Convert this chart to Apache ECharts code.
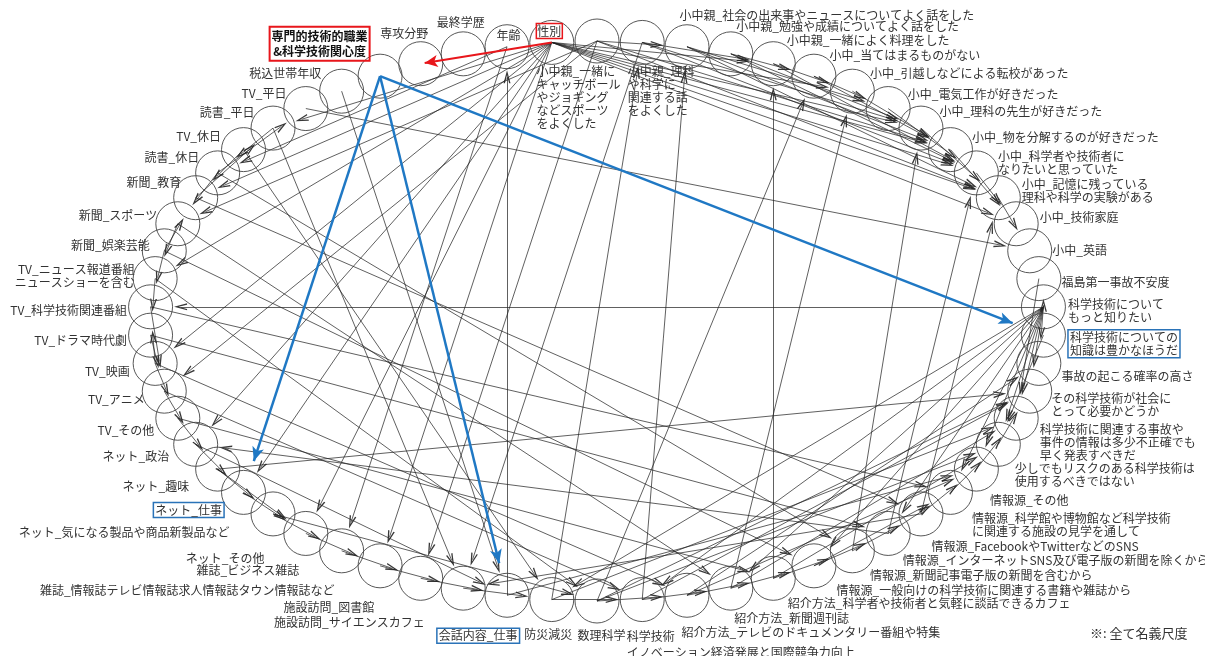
<!DOCTYPE html>
<html><head><meta charset="utf-8">
<script src="https://cdn.jsdelivr.net/npm/echarts@6/dist/echarts.min.js"></script>
<style>html,body{margin:0;padding:0;background:#fff}#c{width:1205px;height:656px}</style>
</head><body><div id="c"></div>
<script>
// ---- data ----
const nodeNames = [
'性別','年齢','最終学歴','専攻分野','専門的技術的職業\n&科学技術関心度','税込世帯年収','TV_平日','読書_平日','TV_休日','読書_休日',
'新聞_教育','新聞_スポーツ','新聞_娯楽芸能','TV_ニュース報道番組\nニュースショーを含む','TV_科学技術関連番組','TV_ドラマ時代劇','TV_映画','TV_アニメ','TV_その他','ネット_政治',
'ネット_趣味','ネット_仕事','ネット_気になる製品や商品新製品など','ネット_その他','雑誌_ビジネス雑誌','雑誌_情報誌テレビ情報誌求人情報誌タウン情報誌など','施設訪問_図書館','施設訪問_サイエンスカフェ','会話内容_仕事','防災減災',
'数理科学','科学技術\nイノベーション経済発展と国際競争力向上','紹介方法_テレビのドキュメンタリー番組や特集','紹介方法_新聞週刊誌','紹介方法_科学者や技術者と気軽に談話できるカフェ','情報源_一般向けの科学技術に関連する書籍や雑誌から','情報源_新聞記事電子版の新聞を含むから','情報源_インターネットSNS及び電子版の新聞を除くから','情報源_FacebookやTwitterなどのSNS','情報源_科学館や博物館など科学技術\nに関連する施設の見学を通して',
'情報源_その他','少しでもリスクのある科学技術は\n使用するべきではない','科学技術に関連する事故や\n事件の情報は多少不正確でも\n早く発表すべきだ','その科学技術が社会に\nとって必要かどうか','事故の起こる確率の高さ','科学技術についての\n知識は豊かなほうだ','科学技術について\nもっと知りたい','福島第一事故不安度','小中_英語','小中_技術家庭',
'小中_記憶に残っている\n理科や科学の実験がある','小中_科学者や技術者に\nなりたいと思っていた','小中_物を分解するのが好きだった','小中_理科の先生が好きだった','小中_電気工作が好きだった','小中_引越しなどによる転校があった','小中_当てはまるものがない','小中親_一緒によく料理をした','小中親_勉強や成績についてよく話をした','小中親_社会の出来事やニュースについてよく話をした',
'小中親_理科\nや科学に\n関連する話\nをよくした','小中親_一緒に\nキャッチボール\nやジョギング\nなどスポーツ\nをよくした'
];
const blackEdges = [
[0,49],[0,50],[0,51],[0,52],[0,53],[0,55],[0,57],
[61,50],[61,52],[60,51],[60,53],[59,50],[59,52],[59,54],[58,51],[58,53],[57,51],[57,55],[56,52],[56,54],[55,52],[54,51],[53,50],[52,49],[51,49],[50,48],[58,56],[61,59],[60,57],
[0,7],[0,10],[61,11],[1,9],[0,13],[0,19],[0,21],[0,23],[0,25],[61,26],[60,27],[1,24],[0,16],[61,17],
[28,1],[31,59],[30,56],[37,51],[38,50],[6,48],[34,57],[29,60],[33,55],[36,53],
[46,14],[46,45],[46,44],[46,43],[46,42],[46,41],[46,40],[46,39],[46,37],[46,35],[46,33],[46,31],[46,29],[47,42],[45,41],
[9,6],[10,7],[7,9],[8,10],[9,11],[12,10],[11,13],[12,14],[13,15],[16,14],[14,17],[15,17],[16,18],[17,19],[18,20],[19,21],[20,22],[21,23],[22,24],[23,25],[24,26],[25,27],[20,23],
[10,38],[9,36],[8,29],[11,33],[12,35],[7,27],[13,30],[16,32],[15,37],[17,31],[14,39],[18,34],[20,43],[37,19],[38,27],[19,28],[22,30],[5,28],
[26,28],[27,29],[29,31],[30,32],[31,33],[32,34],[33,35],[34,36],[35,37],[36,38],[37,39],[38,40],[39,41],[40,42],[41,43],
[29,42],[30,41],[31,43],[32,40],[33,42],[30,43],[32,44],[34,41],[28,40],[35,39]
];
const blueEdges = [[4,45],[4,28],[4,21]];
const redEdges = [[0,3]];
const redBoxed = [0,4];
const blueBoxed = [21,28,45];
const noteText = '※: 全て名義尺度';

// ---- label placement (style): [dx, dy, align, verticalAlign] relative to node centre ----
const L = 'left', R = 'right', C = 'center', M = 'middle', T = 'top';
const labelPlace = [
[-2,-11,C,M],[2,-11,C,M],[-2,-31,C,M],[-16,-30,C,M],[-60,-32,C,M],[-20,-17,R,M],[-19,-15,R,M],[-18,-15,R,M],[-22,-13,R,M],[-18,-15,R,M],
[-14,-15,R,M],[-20,-8,R,M],[-14,-5,R,M],[-20,-2,R,M],[-23,4,R,M],[-23,6,R,M],[-25,8,R,M],[-19,9,R,M],[-23,13,R,M],[-26,13,R,M],
[-28,18,R,M],[-19,18,R,M],[-43,19,R,M],[-41,25,R,M],[-42,20,R,M],[-45,25,R,M],[-46,30,R,M],[-38,35,R,M],[13,41,R,M],[-27,35,L,M],
[-19,35,L,M],[-15,29,L,T],[-5,38,L,M],[4,31,L,M],[15,26,L,M],[23,25,L,M],[18,25,L,M],[15,27,L,M],[11,33,L,M],[22,33,L,M],
[14,32,L,M],[17,31,L,M],[24,25,L,M],[22,14,L,M],[23,13,L,M],[25,9,L,M],[25,5,L,M],[23,4,L,M],[23,0,L,M],[24,-6,L,M],
[24,-6,L,M],[22,-10,L,M],[22,-12,L,M],[19,-16,L,M],[20,-14,L,M],[18,-17,L,M],[16,-20,L,M],[14,-23,L,M],[6,-27,L,M],[-7,-31,L,M],
[-14,23,L,T],[-60,24,L,T]
];

// ---- elliptical layout: nodes evenly spaced in angle on the unit circle, stretched by the axes ----
const N = nodeNames.length;
function layoutPos(i) {
  const phi = (90 + 360 / N * (i + 1)) * Math.PI / 180;
  return [Math.cos(phi), Math.sin(phi)];
}
const R0 = 22;
const FONT = "'Noto Sans CJK JP','Noto Sans CJK SC',sans-serif";

function visibleNodes() {
  return nodeNames.map((name, i) => {
    const pl = labelPlace[i];
    const lab = {
      show: true, formatter: name,
      position: [R0 + pl[0], R0 + pl[1]], align: pl[2], verticalAlign: pl[3],
      fontSize: 12, lineHeight: 13, color: '#333', fontFamily: FONT
    };
    if (i === 31) lab.lineHeight = 16;
    if (redBoxed.includes(i)) {
      Object.assign(lab, { borderColor: '#e8161b', borderWidth: i === 4 ? 2 : 1.5, padding: i === 4 ? [3, 2, 1, 2] : [2, 1, 0, 1] });
      if (i === 4) Object.assign(lab, { fontWeight: 'bold', color: '#111', lineHeight: 15 });
    }
    if (blueBoxed.includes(i)) {
      Object.assign(lab, { borderColor: '#2a73b8', borderWidth: 1.5, padding: [2, 2, 0, 2] });
    }
    return { name: 'n' + i, value: layoutPos(i), label: lab };
  });
}
function hiddenNodes() {
  return nodeNames.map((name, i) => ({ name: 'n' + i, value: layoutPos(i) }));
}
function links(list) { return list.map(e => ({ source: e[0], target: e[1] })); }

const openArrow = 'path://M50,0L70,100L62,100L50,36L38,100L30,100Z';

const base = { type: 'graph', layout: 'none', coordinateSystem: 'cartesian2d', roam: false, silent: true, animation: false };

const option = {
  backgroundColor: '#fff',
  animation: false,
  grid: { left: 150, top: 41, width: 894, height: 560, show: false },
  xAxis: { type: 'value', min: -1, max: 1, show: false },
  yAxis: { type: 'value', min: -1, max: 1, show: false },
  graphic: [{ type: 'text', left: 1090, top: 627, style: { text: noteText, fontSize: 13, fill: '#333', fontFamily: FONT } }],
  series: [
    Object.assign({}, base, {
      z: 2,
      data: hiddenNodes(), links: links(blackEdges),
      symbol: 'circle', symbolSize: 60,
      itemStyle: { color: 'rgba(0,0,0,0)', borderWidth: 0 },
      label: { show: false },
      edgeSymbol: ['none', openArrow], edgeSymbolSize: [1, [7, 13]],
      lineStyle: { color: '#222', width: 0.8, opacity: 0.9, curveness: 0 }
    }),
    Object.assign({}, base, {
      z: 3,
      data: visibleNodes(), links: [],
      symbol: 'circle', symbolSize: R0 * 2,
      itemStyle: { color: 'rgba(255,255,255,0)', borderColor: '#444', borderWidth: 0.9 }
    }),
    Object.assign({}, base, {
      z: 4,
      data: hiddenNodes(), links: links(blueEdges),
      symbol: 'circle', symbolSize: 66,
      itemStyle: { color: 'rgba(0,0,0,0)', borderWidth: 0 },
      label: { show: false },
      edgeSymbol: ['none', 'arrow'], edgeSymbolSize: [1, [9, 14]],
      lineStyle: { color: '#1f78c4', width: 2.5, opacity: 1, curveness: 0 }
    }),
    Object.assign({}, base, {
      z: 5,
      data: hiddenNodes(), links: links(redEdges),
      symbol: 'circle', symbolSize: 8,
      itemStyle: { color: 'rgba(0,0,0,0)', borderWidth: 0 },
      label: { show: false },
      edgeSymbol: ['none', 'arrow'], edgeSymbolSize: [1, [9, 13]],
      lineStyle: { color: '#e8161b', width: 2, opacity: 1, curveness: 0 }
    })
  ]
};
const chart = echarts.init(document.getElementById('c'), null, { renderer: 'canvas' });
chart.setOption(option);
</script></body></html>
